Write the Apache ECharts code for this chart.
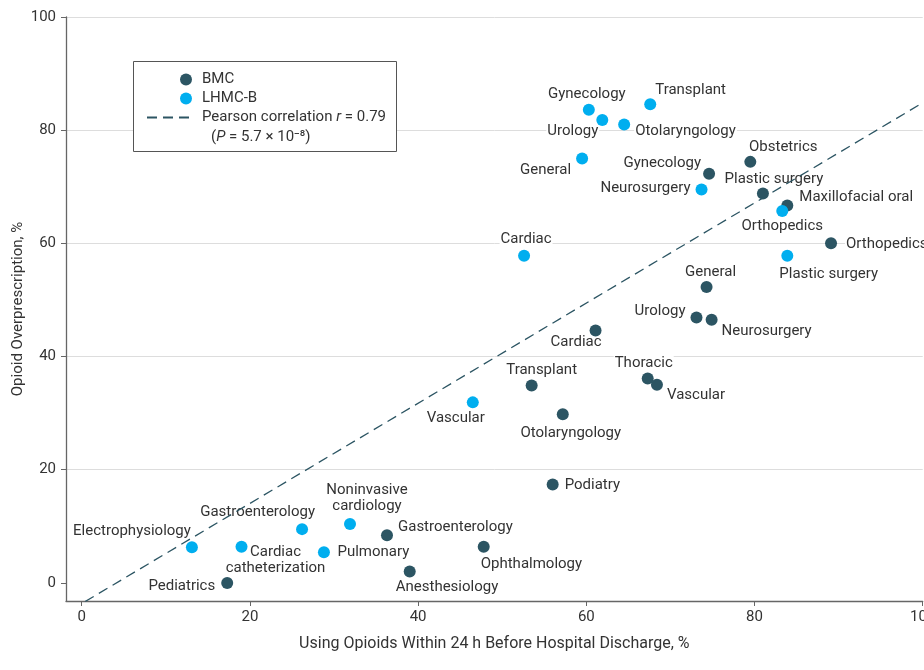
<!DOCTYPE html>
<html>
<head>
<meta charset="utf-8">
<script src="https://cdn.jsdelivr.net/npm/echarts@6/dist/echarts.min.js"></script>
<style>
  html, body { margin: 0; padding: 0; background: #fff; }
  #chart { width: 924px; height: 670px; }
</style>
</head>
<body>
<div id="chart"></div>
<script>
// Service-level values: % using opioids within 24 h before discharge (x)
// vs % opioid overprescription (y)
const bmcNames = ['Obstetrics', 'Gynecology', 'Plastic surgery', 'Maxillofacial oral', 'Orthopedics',
  'General', 'Urology', 'Neurosurgery', 'Cardiac', 'Thoracic', 'Vascular', 'Transplant',
  'Otolaryngology', 'Podiatry', 'Gastroenterology', 'Ophthalmology', 'Anesthesiology', 'Pediatrics'];
const bmcX = [79.5, 74.6, 81.0, 83.9, 89.1, 74.3, 73.1, 74.9, 61.1, 67.3, 68.4, 53.5, 57.2, 56.0, 36.3, 47.8, 39.0, 17.3];
const bmcY = [74.4, 72.3, 68.8, 66.7, 60.0, 52.3, 46.9, 46.5, 44.6, 36.1, 35.0, 34.9, 29.8, 17.4, 8.4, 6.4, 2.0, 0.0];

const lhmcNames = ['Gynecology', 'Transplant', 'Urology', 'Otolaryngology', 'General', 'Neurosurgery',
  'Orthopedics', 'Cardiac', 'Plastic surgery', 'Vascular', 'Gastroenterology',
  'Noninvasive\ncardiology', 'Electrophysiology', 'Cardiac\ncatheterization', 'Pulmonary'];
const lhmcX = [60.3, 67.6, 61.9, 64.5, 59.5, 73.7, 83.3, 52.6, 83.9, 46.5, 26.2, 31.9, 13.1, 19.0, 28.8];
const lhmcY = [83.6, 84.6, 81.8, 81.0, 75.0, 69.5, 65.7, 57.8, 57.8, 31.9, 9.5, 10.4, 6.3, 6.4, 5.4];

// Pearson correlation fit line end points
const fitX = [0.4, 99.5];
const fitY = [-3.3, 84.4];

const tickValues = [0, 20, 40, 60, 80, 100];
const gridValues = [20, 40, 60, 80, 100];

// Label placement per point: [align, dx, dy] from the marker centre
const bmcLabelPos = {
  'Obstetrics': ['center', 33, -15],
  'Gynecology': ['right', -7, -11],
  'Plastic surgery': ['center', 11, -14],
  'Maxillofacial oral': ['left', 11, -8],
  'Orthopedics': ['left', 14, 1],
  'General': ['center', 4, -15],
  'Urology': ['right', -10, -6],
  'Neurosurgery': ['left', 9, 11],
  'Cardiac': ['right', 7, 12],
  'Thoracic': ['center', -4, -15],
  'Vascular': ['left', 9, 10],
  'Transplant': ['center', 10, -15],
  'Otolaryngology': ['center', 8, 19],
  'Podiatry': ['left', 11, 1],
  'Gastroenterology': ['left', 10, -8],
  'Ophthalmology': ['left', -4, 18],
  'Anesthesiology': ['left', -15, 16],
  'Pediatrics': ['right', -11, 3]
};
const lhmcLabelPos = {
  'Gynecology': ['center', -2, -16],
  'Transplant': ['left', 4, -14],
  'Urology': ['right', -3, 11],
  'Otolaryngology': ['left', 10, 7],
  'General': ['right', -10, 12],
  'Neurosurgery': ['right', -10, -1],
  'Orthopedics': ['center', 0, 15],
  'Cardiac': ['center', 2, -17],
  'Plastic surgery': ['left', -9, 18],
  'Vascular': ['center', -17, 16],
  'Gastroenterology': ['right', 14, -17],
  'Noninvasive\ncardiology': ['center', 17, -26],
  'Electrophysiology': ['right', 0, -16],
  'Cardiac\ncatheterization': ['center', 34, 14],
  'Pulmonary': ['left', 12.5, 0]
};

const FONT = 'Roboto';
const TEXT = '#333333';
const DARK = '#2c5563';
const CYAN = '#00aeef';

function points(names, xs, ys) {
  return names.map((n, i) => ({ name: n, value: [xs[i], ys[i]] }));
}

function labelledPoints(names, xs, ys, layout) {
  return names.map((n, i) => {
    const p = layout[n];
    return {
      name: n,
      value: [xs[i], ys[i]],
      label: {
        show: true,
        position: 'inside',
        align: p[0],
        verticalAlign: 'middle',
        offset: [p[1], p[2]],
        formatter: '{b}',
        color: TEXT,
        opacity: 1,
        fontFamily: FONT,
        fontSize: 15,
        lineHeight: 16,
        backgroundColor: '#ffffff',
        padding: [0, 1]
      }
    };
  });
}

const axisCommon = {
  type: 'value',
  nameLocation: 'middle',
  nameMoveOverlap: false,
  axisLine: { show: true, onZero: false, lineStyle: { color: '#666', width: 1.3 } },
  axisTick: { show: true, length: 5, customValues: tickValues, lineStyle: { color: '#666' } },
  splitLine: { show: false }
};

const chart = echarts.init(document.getElementById('chart'), null, { renderer: 'canvas' });

chart.setOption({
  animation: false,
  backgroundColor: '#ffffff',
  textStyle: { fontFamily: FONT },
  grid: { left: 66, top: 17, right: 1.3, bottom: 69, outerBoundsMode: 'none', containLabel: false },
  xAxis: Object.assign({}, axisCommon, {
    min: -1.87,
    max: 100,
    name: 'Using Opioids Within 24 h Before Hospital Discharge, %',
    nameGap: 35,
    nameTextStyle: { color: TEXT, fontSize: 16, fontFamily: FONT },
    axisLabel: { customValues: tickValues, color: TEXT, fontSize: 15, margin: 9, fontFamily: FONT }
  }),
  yAxis: Object.assign({}, axisCommon, {
    min: -3.2,
    max: 100,
    name: 'Opioid Overprescription, %',
    nameGap: 40,
    nameTextStyle: { color: TEXT, fontSize: 15, fontFamily: FONT },
    axisLabel: { customValues: tickValues, color: TEXT, fontSize: 15, margin: 10, fontFamily: FONT }
  }),
  legend: [
    {
      data: ['BMC', 'LHMC-B'],
      orient: 'vertical',
      left: 180,
      top: 70,
      z: 10,
      itemWidth: 12,
      itemHeight: 12,
      itemGap: 0,
      icon: 'circle',
      padding: 0,
      textStyle: { color: TEXT, fontSize: 15, lineHeight: 19, fontFamily: FONT, padding: [0, 0, 0, 5] }
    },
    {
      data: ['Pearson correlation'],
      orient: 'vertical',
      left: 146,
      top: 108,
      z: 10,
      itemWidth: 46,
      itemHeight: 12,
      padding: 0,
      itemStyle: { opacity: 0 },
      formatter: () => 'Pearson correlation {i|r} = 0.79',
      textStyle: {
        color: TEXT, fontSize: 15, lineHeight: 19, fontFamily: FONT, padding: [0, 0, 0, 4],
        rich: { i: { fontStyle: 'italic', color: TEXT, fontSize: 15, lineHeight: 19, fontFamily: FONT } }
      }
    }
  ],
  graphic: [
    {
      type: 'rect',
      z: 8,
      shape: { x: 133.5, y: 61.5, width: 263, height: 90 },
      style: { fill: '#ffffff', stroke: '#555', lineWidth: 1 },
      silent: true
    },
    {
      type: 'text',
      z: 10,
      x: 211,
      y: 137,
      style: {
        text: '({i|P} = 5.7 × 10⁻⁸)',
        fill: TEXT,
        fontSize: 15,
        fontFamily: FONT,
        verticalAlign: 'middle',
        rich: { i: { fontStyle: 'italic', fill: TEXT, fontSize: 15, fontFamily: FONT } }
      },
      silent: true
    }
  ],
  series: [
    {
      // horizontal reference lines
      name: 'grid',
      type: 'line',
      data: [],
      silent: true,
      z: 0,
      markLine: {
        silent: true,
        z: 0,
        symbol: ['none', 'none'],
        label: { show: false },
        lineStyle: { color: '#dddddd', width: 1, type: 'solid' },
        data: gridValues.map(v => ({ yAxis: v }))
      }
    },
    {
      // service names, drawn under the fit line and the markers
      name: 'BMC-labels',
      type: 'scatter',
      symbolSize: 12,
      z: 1,
      silent: true,
      itemStyle: { color: 'rgba(0,0,0,0)' },
      data: labelledPoints(bmcNames, bmcX, bmcY, bmcLabelPos)
    },
    {
      name: 'LHMC-B-labels',
      type: 'scatter',
      symbolSize: 12,
      z: 1,
      silent: true,
      itemStyle: { color: 'rgba(0,0,0,0)' },
      data: labelledPoints(lhmcNames, lhmcX, lhmcY, lhmcLabelPos)
    },
    {
      name: 'Pearson correlation',
      type: 'line',
      data: fitX.map((x, i) => [x, fitY[i]]),
      symbol: 'none',
      z: 3,
      color: DARK,
      lineStyle: { color: DARK, width: 1.3, type: [10, 6] }
    },
    {
      name: 'BMC',
      type: 'scatter',
      symbolSize: 12,
      z: 4,
      itemStyle: { color: DARK, opacity: 1 },
      data: points(bmcNames, bmcX, bmcY)
    },
    {
      name: 'LHMC-B',
      type: 'scatter',
      symbolSize: 12,
      z: 4,
      itemStyle: { color: CYAN, opacity: 1 },
      data: points(lhmcNames, lhmcX, lhmcY)
    }
  ]
});
</script>
</body>
</html>
